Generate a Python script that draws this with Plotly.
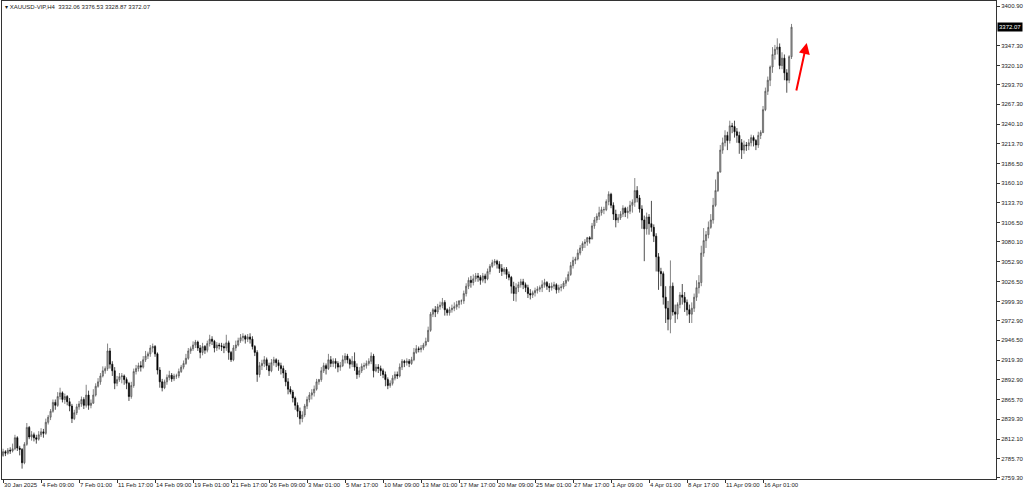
import plotly.graph_objects as go

# ---------------- data (H4 candles, XAUUSD) ----------------
first_open = 2790.0

closes = [
    2795, 2793,
    2797, 2796, 2799, 2814, 2800, 2798,
    2780, 2805, 2828, 2815, 2818, 2814,
    2812, 2818, 2822, 2820, 2835, 2842,
    2850, 2862, 2858, 2870, 2875, 2866,
    2870, 2863, 2857, 2840, 2848, 2856,
    2860, 2866, 2858, 2872, 2858, 2861,
    2872, 2884, 2890, 2898, 2905, 2908,
    2932, 2914, 2905, 2888, 2893, 2897,
    2898, 2893, 2888, 2870, 2885, 2904,
    2908, 2912, 2910, 2920, 2925, 2928,
    2936, 2938, 2928, 2906, 2890, 2882,
    2890, 2896, 2899, 2894, 2898, 2898,
    2904, 2910, 2915, 2922, 2932, 2935,
    2940, 2944, 2936, 2930, 2938, 2933,
    2942, 2948, 2945, 2936, 2940, 2939,
    2938, 2936, 2943, 2930, 2920, 2936,
    2940, 2946, 2950, 2952, 2948, 2951,
    2948, 2938, 2930, 2900, 2912, 2915,
    2920, 2912, 2905, 2916, 2920, 2916,
    2912, 2908, 2902, 2890, 2880, 2876,
    2868, 2858, 2850, 2840, 2845, 2857,
    2866, 2872, 2875, 2880, 2890, 2893,
    2905, 2912, 2908, 2920, 2915, 2918,
    2915, 2910, 2912, 2920, 2925, 2920,
    2914, 2918, 2910, 2900, 2905, 2911,
    2912, 2915, 2918, 2925, 2905, 2910,
    2908, 2905, 2900, 2893, 2885, 2888,
    2895, 2900, 2898, 2910, 2918, 2916,
    2918, 2915, 2920, 2930, 2935, 2934,
    2936, 2940, 2945, 2960, 2982, 2988,
    2985, 2992, 2994, 2998, 2988, 2984,
    2988, 2990, 2992, 2995, 3000, 3000,
    3010, 3020, 3028, 3025, 3030, 3034,
    3032, 3028, 3034, 3030, 3040, 3047,
    3052, 3054, 3050, 3044, 3040, 3043,
    3036, 3032, 3020, 3010, 3018, 3022,
    3026, 3022, 3018, 3010, 3008, 3011,
    3014, 3016, 3018, 3022, 3025, 3020,
    3018, 3020, 3022, 3015, 3018, 3019,
    3024, 3028, 3036, 3048, 3055, 3057,
    3065, 3072, 3078, 3080, 3086, 3084,
    3102, 3110, 3115, 3120, 3124, 3124,
    3135, 3145, 3130, 3118, 3110, 3113,
    3118, 3126, 3120, 3122, 3130, 3134,
    3150, 3140, 3125, 3110, 3098, 3114,
    3105, 3100, 3088, 3060, 3040, 3037,
    3005, 2990, 2975, 3020, 2985, 2982,
    2995, 3008, 3005, 2998, 2988, 2982,
    2990, 3005, 3018, 3025, 3065, 3082,
    3090, 3100, 3110, 3130, 3150, 3175,
    3205, 3215, 3225, 3218, 3238, 3237,
    3230, 3225, 3215, 3205, 3212, 3211,
    3215, 3222, 3218, 3212, 3225, 3229,
    3260, 3285, 3300, 3318, 3335, 3342,
    3345, 3320, 3330, 3310, 3300, 3332.06,
    3372.07,
]

highs = [
    2799, 2797,
    2800, 2801, 2806, 2818, 2816, 2803,
    2800, 2808, 2834, 2830, 2823, 2821,
    2818, 2823, 2827, 2826, 2840, 2845,
    2853, 2866, 2866, 2876, 2882, 2877,
    2874, 2872, 2868, 2860, 2852, 2860,
    2864, 2870, 2869, 2886, 2878, 2866,
    2880, 2888, 2895, 2902, 2911, 2911,
    2942, 2936, 2918, 2910, 2898, 2902,
    2902, 2900, 2896, 2890, 2890, 2908,
    2913, 2916, 2918, 2925, 2932, 2931,
    2940, 2942, 2940, 2930, 2910, 2894,
    2893, 2900, 2905, 2902, 2901, 2901,
    2908, 2913, 2919, 2928, 2936, 2938,
    2945, 2947, 2946, 2940, 2943, 2940,
    2946, 2954, 2952, 2947, 2944, 2943,
    2943, 2942, 2954, 2946, 2932, 2940,
    2946, 2950, 2955, 2956, 2954, 2955,
    2956, 2952, 2940, 2933, 2917, 2920,
    2925, 2923, 2916, 2921, 2924, 2922,
    2920, 2916, 2912, 2906, 2895, 2884,
    2879, 2870, 2862, 2855, 2850, 2860,
    2870, 2876, 2880, 2885, 2894, 2894,
    2910, 2916, 2915, 2928, 2925, 2922,
    2922, 2918, 2917, 2926, 2929, 2928,
    2922, 2925, 2930, 2915, 2910, 2915,
    2916, 2919, 2922, 2930, 2928, 2914,
    2914, 2912, 2908, 2904, 2896, 2892,
    2899, 2904, 2904, 2915, 2921, 2920,
    2922, 2921, 2924, 2936, 2940, 2938,
    2940, 2943, 2950, 2965, 2985, 2990,
    2993, 2996, 2999, 3004, 3001, 2990,
    2992, 2995, 2998, 3000, 3001, 3002,
    3014, 3024, 3032, 3034, 3036, 3038,
    3038, 3035, 3038, 3037, 3044, 3050,
    3056, 3057, 3056, 3054, 3050, 3046,
    3046, 3040, 3034, 3026, 3024, 3026,
    3030, 3030, 3025, 3022, 3016, 3014,
    3018, 3020, 3021, 3028, 3030, 3027,
    3024, 3025, 3026, 3024, 3022, 3023,
    3027, 3032, 3040, 3053, 3060, 3060,
    3070, 3076, 3081, 3084, 3087, 3088,
    3106, 3114, 3119, 3128, 3128, 3128,
    3138, 3149, 3147, 3134, 3124, 3118,
    3122, 3130, 3128, 3128, 3136, 3138,
    3167, 3156, 3144, 3130, 3116, 3120,
    3118, 3136, 3104, 3092, 3065, 3045,
    3040, 3020, 3000, 3055, 3025, 2995,
    2998, 3012, 3023, 3012, 3002, 2995,
    2998, 3010, 3028, 3035, 3075, 3099,
    3095, 3108, 3118, 3140, 3165, 3176,
    3212, 3222, 3232, 3230, 3245, 3242,
    3245, 3235, 3230, 3220, 3218, 3216,
    3220, 3226, 3225, 3220, 3230, 3232,
    3265, 3290, 3305, 3320, 3345, 3348,
    3357, 3350, 3338, 3335, 3315, 3334,
    3376.53,
]

lows = [
    2788, 2789,
    2791, 2792, 2794, 2797, 2796, 2790,
    2772, 2778, 2803, 2812, 2810, 2809,
    2806, 2810, 2815, 2814, 2818, 2832,
    2838, 2848, 2852, 2856, 2866, 2862,
    2860, 2858, 2850, 2834, 2838, 2845,
    2852, 2856, 2853, 2855, 2852, 2854,
    2860, 2870, 2882, 2886, 2896, 2901,
    2905, 2908, 2898, 2880, 2884, 2890,
    2888, 2886, 2880, 2864, 2867, 2882,
    2900, 2904, 2904, 2908, 2917, 2921,
    2924, 2930, 2924, 2900, 2882, 2877,
    2880, 2886, 2892, 2890, 2891, 2894,
    2895, 2902, 2907, 2913, 2920, 2928,
    2932, 2936, 2932, 2922, 2926, 2928,
    2930, 2938, 2940, 2930, 2932, 2934,
    2932, 2929, 2932, 2920, 2917, 2918,
    2932, 2938, 2943, 2945, 2942, 2944,
    2942, 2934, 2925, 2890, 2896, 2906,
    2910, 2906, 2898, 2903, 2912, 2910,
    2905, 2900, 2895, 2884, 2873, 2873,
    2862, 2852, 2842, 2832, 2835, 2842,
    2853, 2862, 2866, 2870, 2878, 2886,
    2890, 2902, 2900, 2906, 2910, 2910,
    2908, 2903, 2905, 2910, 2915, 2915,
    2908, 2910, 2905, 2894, 2896, 2902,
    2906, 2908, 2912, 2914, 2896, 2903,
    2902, 2898, 2895, 2884, 2880, 2882,
    2885, 2892, 2894, 2896, 2906, 2910,
    2912, 2910, 2913, 2918, 2928, 2930,
    2930, 2933, 2938, 2944, 2958, 2978,
    2978, 2982, 2988, 2990, 2980, 2980,
    2980, 2984, 2986, 2988, 2990, 2995,
    2996, 3006, 3016, 3018, 3021, 3026,
    3026, 3022, 3025, 3024, 3028, 3036,
    3045, 3048, 3044, 3038, 3034, 3036,
    3030, 3028, 3010, 3000, 2999, 3012,
    3018, 3016, 3012, 3004, 3002, 3004,
    3006, 3010, 3012, 3012, 3018, 3015,
    3012, 3014, 3016, 3010, 3011, 3013,
    3016, 3020, 3026, 3034, 3044, 3050,
    3055, 3062, 3068, 3072, 3075, 3078,
    3085, 3098, 3106, 3110, 3116, 3118,
    3122, 3130, 3126, 3110, 3100, 3106,
    3110, 3114, 3114, 3112, 3118, 3120,
    3128, 3134, 3120, 3098, 3054, 3090,
    3090, 3094, 3080, 3040, 3015, 3020,
    2995, 2970, 2960, 2956, 2980, 2970,
    2975, 2990, 2995, 2985, 2980, 2970,
    2970, 2985, 3000, 3010, 3020, 3060,
    3072, 3085, 3098, 3105, 3128, 3148,
    3175, 3200, 3210, 3205, 3214, 3228,
    3222, 3215, 3200, 3193, 3200, 3204,
    3205, 3210, 3210, 3205, 3208, 3220,
    3228, 3258, 3280, 3292, 3310, 3328,
    3335, 3315, 3315, 3300, 3283, 3296,
    3328.87,
]

x_tick_labels = [
    "30 Jan 2025", "4 Feb 09:00", "7 Feb 01:00", "11 Feb 17:00", "14 Feb 09:00",
    "19 Feb 01:00", "21 Feb 17:00", "26 Feb 09:00", "3 Mar 01:00", "5 Mar 17:00",
    "10 Mar 09:00", "13 Mar 01:00", "17 Mar 17:00", "20 Mar 09:00", "25 Mar 01:00",
    "27 Mar 17:00", "1 Apr 09:00", "4 Apr 01:00", "8 Apr 17:00", "11 Apr 09:00",
    "16 Apr 01:00",
]
bars_per_label = 16

y_tick_values = [
    3400.90, 3347.30, 3320.10, 3293.70, 3267.30, 3240.10, 3213.70, 3186.50,
    3160.10, 3133.70, 3106.50, 3080.10, 3052.90, 3026.50, 2999.30, 2972.90,
    2946.50, 2919.30, 2892.90, 2865.70, 2839.30, 2812.10, 2785.70, 2759.30,
]

symbol_title = "XAUUSD-VIP,H4"
last_open, last_high, last_low, last_close = 3332.06, 3376.53, 3328.87, 3372.07

# ---------------- build ----------------
n = len(closes)
opens = [first_open] + closes[:-1]
hi = [max(h, o, c) for h, o, c in zip(highs, opens, closes)]
lo = [min(l, o, c) for l, o, c in zip(lows, opens, closes)]
xs = list(range(n))

FONT = "Liberation Sans"
TXT = "#1a1a1a"

fig = go.Figure()
fig.add_trace(go.Candlestick(
    x=xs, open=opens, high=hi, low=lo, close=closes,
    increasing=dict(line=dict(color="#505050", width=0.7), fillcolor="#a8a8a8"),
    decreasing=dict(line=dict(color="#000000", width=0.7), fillcolor="#000000"),
    whiskerwidth=0, showlegend=False, hoverinfo="skip",
))

tickvals_x = [i * bars_per_label for i in range(len(x_tick_labels))]

fig.update_layout(
    width=1024, height=491,
    margin=dict(l=2, r=28, t=1, b=12, autoexpand=False),
    paper_bgcolor="white", plot_bgcolor="white",
    font=dict(family=FONT, size=6, color=TXT),
    showlegend=False,
    hovermode=False,
    xaxis=dict(
        type="linear", range=[-0.45, 418.1],
        rangeslider=dict(visible=False),
        showgrid=False, zeroline=False,
        showline=True, linecolor="#333", linewidth=1, mirror=True,
        tickmode="array", tickvals=tickvals_x, ticktext=x_tick_labels,
        ticks="outside", ticklen=3, tickcolor="#333", tickwidth=1,
        ticklabelposition="outside right", tickangle=0,
        tickfont=dict(family=FONT, size=6, color=TXT),
    ),
    yaxis=dict(
        side="right", range=[2757.9, 3407.7],
        showgrid=False, zeroline=False,
        showline=True, linecolor="#333", linewidth=1, mirror=True,
        tickmode="array", tickvals=y_tick_values,
        ticktext=[f"{v:.2f}" for v in y_tick_values],
        ticks="outside", ticklen=3, tickcolor="#333", tickwidth=1,
        tickfont=dict(family=FONT, size=6, color=TXT),
    ),
)

# header text (top-left)
fig.add_annotation(
    xref="paper", yref="paper", x=0, y=1, xanchor="left", yanchor="top",
    xshift=1, yshift=-1, showarrow=False,
    text=f"▾ {symbol_title}  {last_open:.2f} {last_high:.2f} {last_low:.2f} {last_close:.2f}",
    font=dict(family=FONT, size=6, color=TXT),
)

# current price box on the right scale
fig.add_annotation(
    xref="paper", yref="y", x=1, y=last_close, xanchor="left", yanchor="middle",
    xshift=1, showarrow=False, text=f"{last_close:.2f}",
    bgcolor="#000000", font=dict(family=FONT, size=6, color="white"), borderpad=1,
)

# red arrow (drawn annotation)
fig.add_annotation(
    x=338.4, y=3350.6, xref="x", yref="y",
    ax=-10.7, ay=49, axref="pixel", ayref="pixel",
    showarrow=True, arrowhead=2, arrowsize=1.1, arrowwidth=2, arrowcolor="#ff0000",
    text="",
)

fig.write_html(
    "out.html",
    config={"displayModeBar": False, "staticPlot": True},
    post_script="document.body.style.margin='0';document.body.style.overflow='hidden';",
)
